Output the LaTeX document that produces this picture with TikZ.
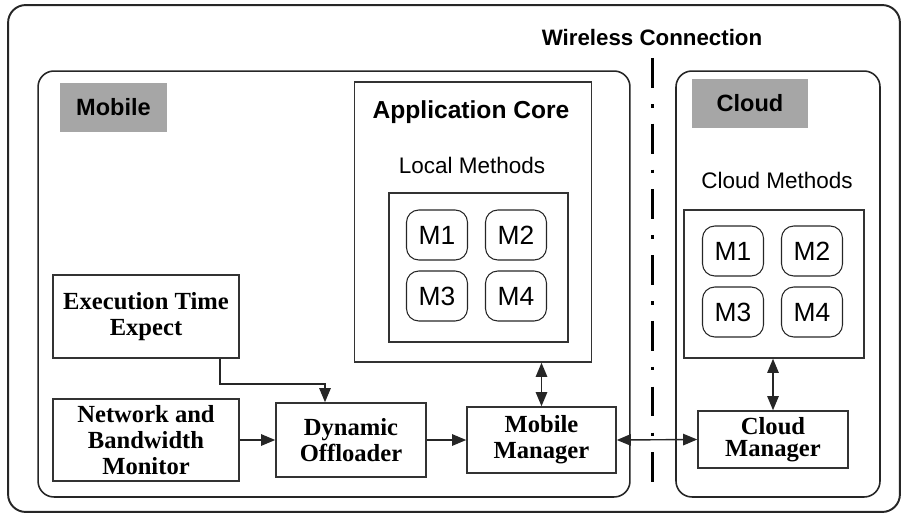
\documentclass[tikz,border=0pt]{standalone}
\usepackage{fontspec}
\setmainfont{Liberation Serif}
\setsansfont{Liberation Sans}
\usetikzlibrary{arrows.meta}

\begin{document}
\begin{tikzpicture}[x=0.02cm,y=-0.02cm]
	 \tikzstyle{frame}=[draw=black!85,line width=1.1pt,rounded corners=10pt,inner sep=0pt]
	 \tikzstyle{box}=[draw=black!80,line width=0.9pt,rectangle,inner sep=0pt]
	 \tikzstyle{block}=[box,align=center,font=\fontsize{14}{14.8}\selectfont\bfseries]
	 \tikzstyle{method}=[draw=black!85,line width=0.6pt,rounded corners=7pt,minimum width=1.22cm,minimum height=1cm,font=\fontsize{15}{18}\sffamily]
	 \tikzstyle{tag}=[fill=black!35,minimum height=0.98cm,font=\fontsize{13.4}{16}\sffamily\bfseries]
	 \tikzstyle{title}=[font=\fontsize{13.4}{16}\sffamily\bfseries]
	 \tikzstyle{caption}=[font=\fontsize{12.8}{15}\sffamily]
	 \tikzstyle{edge}=[draw,line width=0.8pt,black!85,-{Triangle[length=8pt,width=6.5pt]}]
	 \tikzstyle{dedge}=[edge,{Triangle[length=8pt,width=6.5pt]}-{Triangle[length=8pt,width=6.5pt]}]
	 \useasboundingbox (0,0) rectangle (912,517);
	 % containers
	 \node[frame,minimum width=17.84cm,minimum height=10.14cm] (all) at (454,258.5) {};
	 \node[frame,rounded corners=9pt,line width=0.9pt,minimum width=11.84cm,minimum height=8.52cm] (mobile) at (334,284) {};
	 \node[frame,rounded corners=9pt,line width=0.9pt,minimum width=4.08cm,minimum height=8.52cm] (cloud) at (778,284) {};
	 \node[tag,minimum width=2.14cm] (mobiletag) at (113.5,107.5) {Mobile};
	 \node[tag,minimum width=2.32cm] (cloudtag) at (750,103.5) {Cloud};
	 \node[title,font=\fontsize{12.7}{16}\sffamily\bfseries] (wireless) at (652,38) {Wireless Connection};
	 % application core
	 \node[box,minimum width=4.74cm,minimum height=5.6cm] (core) at (473,222) {};
	 \node[title,font=\fontsize{14}{16}\sffamily\bfseries] (coretitle) at (471,112) {Application Core};
	 \node[caption] (localtxt) at (472,165) {Local Methods};
	 \node[box,minimum width=3.58cm,minimum height=2.98cm] (localbox) at (478.5,267.5) {};
	 \node[method] (lm1) at (437,235) {M1};
	 \node[method] (lm2) at (516,235) {M2};
	 \node[method] (lm3) at (437,296) {M3};
	 \node[method] (lm4) at (516,296) {M4};
	 % cloud side
	 \node[caption] (cloudtxt) at (777,180) {Cloud Methods};
	 \node[box,minimum width=3.6cm,minimum height=2.96cm] (cloudbox) at (774,284) {};
	 \node[method] (cm1) at (733,251) {M1};
	 \node[method] (cm2) at (812,251) {M2};
	 \node[method] (cm3) at (733,312) {M3};
	 \node[method] (cm4) at (812,312) {M4};
	 % components
	 \node[block,minimum width=3.72cm,minimum height=1.66cm] (exec) at (146,316.5) {Execution Time\\Expect};
	 \node[block,minimum width=3.72cm,minimum height=1.64cm] (network) at (146,440) {Network and\\Bandwidth\\Monitor};
	 \node[block,minimum width=3.0cm,minimum height=1.48cm] (dyn) at (351,440) {Dynamic\\Offloader};
	 \node[block,minimum width=2.98cm,minimum height=1.32cm] (mobmgr) at (541.5,440) {Mobile\\Manager};
	 \node[block,minimum width=3.0cm,minimum height=1.14cm] (cloudmgr) at (773,439.5) {\raisebox{-2pt}{Cloud}\\Manager};
	 % wireless link
	 \coordinate (wtop) at (652,58);
	 \coordinate (wbot) at (652,497);
	 \draw[line width=1.7pt,black,dash pattern=on 17pt off 9.2pt on 2pt off 9.2pt] (wtop) -- (wbot);
	 % connectors
	 \coordinate (bend) at (220,384);
	 \coordinate (drop) at (325,384);
	 \draw[edge] (exec.south -| bend) -- (bend) -- (drop) -- (dyn.north -| drop);
	 \draw[edge] (network) -- (dyn);
	 \draw[edge] (dyn) -- (mobmgr);
	 \draw[dedge] (mobmgr.north |- core.south) -- (mobmgr.north);
	 \draw[dedge] (mobmgr.east) -- (cloudmgr.west);
	 \draw[dedge] (cloudmgr.north |- cloudbox.south) -- (cloudmgr.north);
 \end{tikzpicture}
\end{document}
